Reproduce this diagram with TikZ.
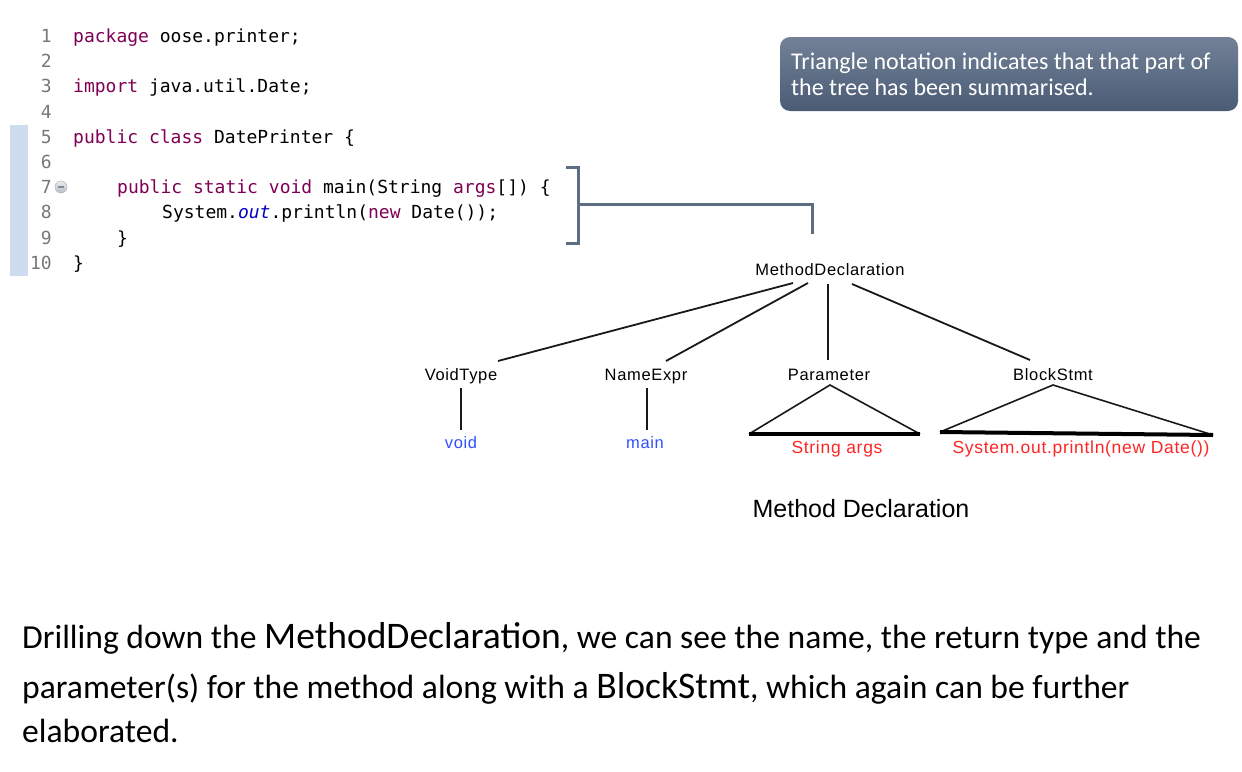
\documentclass[tikz,border=0pt]{standalone}
\usepackage{fontspec}
\setmainfont{Carlito}
\setmonofont{DejaVu Sans Mono}
\newfontfamily\treefont[LetterSpace=4]{Liberation Sans}
\newfontfamily\capfont{Liberation Sans}
\usetikzlibrary{calc}
\definecolor{kw}{HTML}{7F0055}
\definecolor{fld}{HTML}{0000C0}
\definecolor{lnum}{HTML}{787878}
\definecolor{slate}{HTML}{5D6D82}
\definecolor{calltop}{HTML}{728197}
\definecolor{callbot}{HTML}{4A5B74}
\definecolor{treeblue}{HTML}{2F4FFF}
\definecolor{treered}{HTML}{FF2525}
\definecolor{gutter}{HTML}{CFDCF0}
\newcommand{\kwd}[1]{\textcolor{kw}{#1}}
\newcommand{\bigword}[1]{{\fontsize{37.5}{37.5}\selectfont #1}}
\tikzset{
  codeline/.style={anchor=base west,inner sep=0pt,font=\ttfamily\fontsize{18}{18}\selectfont},
  lnline/.style={anchor=base east,inner sep=0pt,text=lnum,font=\ttfamily\fontsize{18}{18}\selectfont},
  treenode/.style={anchor=base,inner sep=0pt,font=\treefont\fontsize{16.5}{16.5}\selectfont},
  leafnode/.style={treenode,text=treeblue},
  sumnode/.style={anchor=base,inner sep=0pt,text=treered,font=\treefont\fontsize{17.5}{17.5}\selectfont},
  edge/.style={line width=1.8pt,draw=black!90},
  trisides/.style={line width=1.6pt,draw=black!90,line join=miter},
  tribase/.style={line width=4pt,draw=black},
  paratext/.style={anchor=base west,inner sep=0pt,font=\fontsize{33.6}{33.6}\selectfont},
  calltext/.style={anchor=base west,inner sep=0pt,text=white,font=\fontsize{24}{24}\selectfont},
  bracket/.style={line width=3pt,draw=slate}
}
\begin{document}
\begin{tikzpicture}[x=1pt,y=-1pt]
\useasboundingbox (0,0) rectangle (1242,771);
\fill[white] (0,0) rectangle (1242,771);

% gutter
\fill[gutter] (10,125) rectangle (28,276);
\node[circle,minimum size=12pt,inner sep=0pt,top color=gray!15,bottom color=slate!45,draw=slate!50,line width=0.5pt] (fold) at (61,187) {};
\draw[slate!80,line width=1.2pt] ($(fold.center)+(-3,0)$) -- ($(fold.center)+(3,0)$);

% line numbers
\node[lnline] (n1) at (52,42) {1};
\node[lnline] (n2) at (52,67) {2};
\node[lnline] (n3) at (52,92) {3};
\node[lnline] (n4) at (52,118) {4};
\node[lnline] (n5) at (52,143) {5};
\node[lnline] (n6) at (52,168) {6};
\node[lnline] (n7) at (52,193) {7};
\node[lnline] (n8) at (52,218) {8};
\node[lnline] (n9) at (52,244) {9};
\node[lnline] (n10) at (52,269) {10};

% code
\node[codeline] (c1) at (73,42) {\kwd{package} oose.printer;};
\node[codeline] (c3) at (73,92) {\kwd{import} java.util.Date;};
\node[codeline] (c5) at (73,143) {\kwd{public} \kwd{class} DatePrinter \{};
\node[codeline] (c7) at (117,193) {\kwd{public} \kwd{static} \kwd{void} main(String \kwd{args}[]) \{};
\node[codeline] (c8) at (162,218) {System.\textcolor{fld}{\itshape out}.println(\kwd{new} Date());};
\node[codeline] (c9) at (117,244) {\}};
\node[codeline] (c10) at (73,269) {\}};

% bracket
\coordinate (bt) at (566,167);
\coordinate (bb) at (566,243);
\coordinate (bm) at (578,204);
\coordinate (bend) at (812,234);
\draw[bracket,line join=miter] (bt) -- ++(12,0) |- (bb);
\draw[bracket] (bm) -| (bend);

% callout
\shade[rounded corners=10pt,top color=calltop,bottom color=callbot] (780,37) rectangle (1238,111);
\node[calltext] (call1) at (791,69) {Triangle notation indicates that that part of};
\node[calltext] (call2) at (791,95) {the tree has been summarised.};

% tree
\node[treenode] (md) at (830,275) {MethodDeclaration};
\node[treenode] (vt) at (461,380) {VoidType};
\node[treenode] (ne) at (646,380) {NameExpr};
\node[treenode] (pa) at (829,380) {Parameter};
\node[treenode] (bs) at (1053,380) {BlockStmt};
\node[leafnode] (vd) at (461,448) {void};
\node[leafnode] (mn) at (645,448) {main};
\node[sumnode] (sa) at (837,453) {String args};
\node[sumnode] (so) at (1081,453) {System.out.println(new Date())};

\draw[edge] ($(md.base)+(-37,8)$) -- ($(vt.base)+(37,-19)$);
\draw[edge] ($(md.base)+(-22,8)$) -- ($(ne.base)+(20,-19)$);
\draw[edge] ($(md.base)+(-2,9)$) -- ($(pa.base)+(-1,-20)$);
\draw[edge] ($(md.base)+(22,9)$) -- ($(bs.base)+(-23,-20)$);
\draw[edge] ($(vt.base)+(0,8)$) -- ($(vd.base)+(0,-18)$);
\draw[edge] ($(ne.base)+(1,8)$) -- ($(mn.base)+(2,-18)$);

% summary triangles
\coordinate (paA) at ($(pa.base)+(1,5)$);
\coordinate (paL) at (749,434);
\coordinate (paR) at (920,434);
\draw[trisides] (paL) -- (paA) -- (paR);
\draw[tribase] (paL) -- (paR);
\coordinate (bsA) at ($(bs.base)+(0,5)$);
\coordinate (bsL) at (940,432);
\coordinate (bsR) at (1213,435);
\draw[trisides] (bsL) -- (bsA) -- (bsR);
\draw[tribase] (bsL) -- (bsR);

% caption
\node[inner sep=0pt,font=\capfont\fontsize{25}{25}\selectfont] (cap) at (861,509) {Method Declaration};

% paragraph
\node[paratext] (p1) at (22,648) {Drilling down the \bigword{MethodDeclaration}, we can see the name, the return type and the};
\node[paratext] (p2) at (22,698) {parameter(s) for the method along with a \bigword{BlockStmt}, which again can be further};
\node[paratext] (p3) at (22,742) {elaborated.};
\end{tikzpicture}
\end{document}
